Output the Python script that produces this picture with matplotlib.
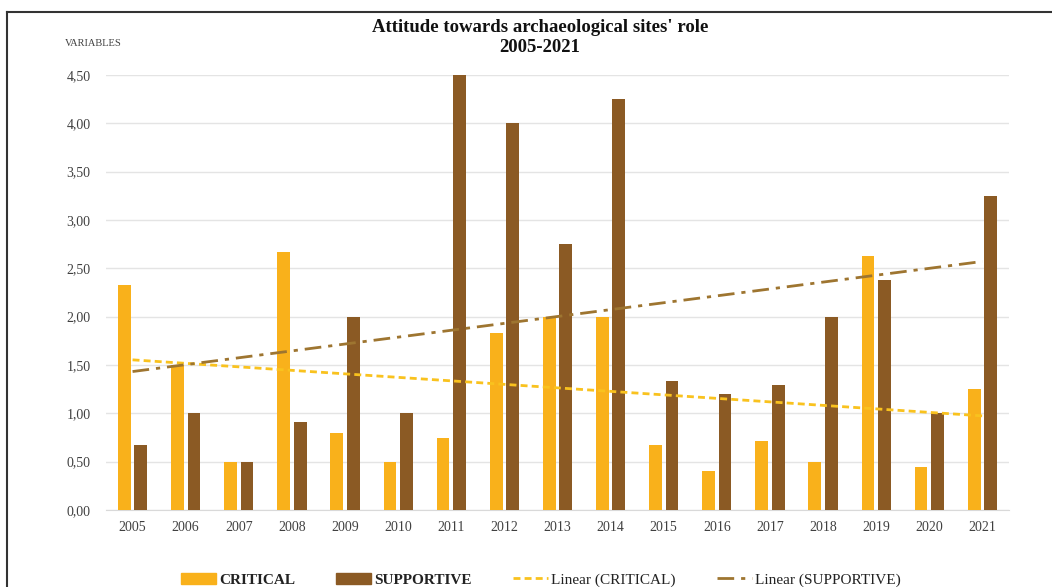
import numpy as np
import matplotlib
matplotlib.use("Agg")
import matplotlib.pyplot as plt
from matplotlib.lines import Line2D
from matplotlib.patches import Patch

years = ["2005", "2006", "2007", "2008", "2009", "2010", "2011", "2012", "2013",
         "2014", "2015", "2016", "2017", "2018", "2019", "2020", "2021"]
critical = [2.33, 1.50, 0.50, 2.67, 0.80, 0.50, 0.75, 1.83, 2.00,
            2.00, 0.67, 0.40, 0.71, 0.50, 2.63, 0.44, 1.25]
supportive = [0.67, 1.00, 0.50, 0.91, 2.00, 1.00, 4.50, 4.00, 2.75,
              4.25, 1.33, 1.20, 1.29, 2.00, 2.38, 1.00, 3.25]
yticks = [0.0, 0.5, 1.0, 1.5, 2.0, 2.5, 3.0, 3.5, 4.0, 4.5]

C_CRIT = "#F9B11B"
C_SUPP = "#8B5A24"
C_CRIT_TR = "#F9C21E"
C_SUPP_TR = "#9E7530"
SERIF = "Liberation Serif"

fig = plt.figure(figsize=(10.52, 5.87), dpi=100)
ax = fig.add_axes([106 / 1052, 1 - 510 / 587, 903 / 1052, (510 - 75) / 587])

x = np.arange(len(years))
w = 0.24
off = 0.155
ax.bar(x - off, critical, width=w, color=C_CRIT, zorder=3)
ax.bar(x + off, supportive, width=w, color=C_SUPP, zorder=3)

# linear trend lines over the year index
pc = np.polyfit(x, critical, 1)
ps = np.polyfit(x, supportive, 1)
ax.plot(x, np.polyval(pc, x), color=C_CRIT_TR, lw=2, ls=(0, (2.5, 1.5)), zorder=4)
ax.plot(x, np.polyval(ps, x), color=C_SUPP_TR, lw=2, ls=(0, (6, 2.5, 1.5, 2.5)), zorder=4)

ax.set_xlim(-0.5, len(years) - 0.5)
ax.set_ylim(0, 4.5)
ax.set_yticks(yticks)
ax.set_yticklabels([f"{v:.2f}".replace(".", ",") for v in yticks],
                   fontfamily=SERIF, fontsize=10, color="#404040")
ax.set_xticks(x)
ax.set_xticklabels(years, fontfamily=SERIF, fontsize=10, color="#404040")
ax.tick_params(axis="both", length=0, pad=11)
ax.tick_params(axis="x", pad=8)
ax.grid(axis="y", color="#E4E4E4", lw=1, zorder=0)
ax.set_axisbelow(True)
for s in ["top", "right", "left"]:
    ax.spines[s].set_visible(False)
ax.spines["bottom"].set_color("#D9D9D9")
ax.spines["bottom"].set_zorder(2)

title_kw = dict(ha="center", va="center", fontfamily=SERIF, fontweight="bold",
                fontsize=13.5, color="#111111")
fig.text(540 / 1052, 1 - 28 / 587, "Attitude towards archaeological sites' role", **title_kw)
fig.text(540 / 1052, 1 - 47 / 587, "2005-2021", **title_kw)
fig.text(65 / 1052, 1 - 43 / 587, "VARIABLES", ha="left", va="center",
         fontfamily=SERIF, fontsize=7.5, color="#404040")

# page frame
fig.add_artist(Line2D([7 / 1052, 7 / 1052], [0, 1 - 12 / 587], transform=fig.transFigure,
                      color="#333333", lw=1.5))
fig.add_artist(Line2D([7 / 1052, 1], [1 - 12 / 587, 1 - 12 / 587], transform=fig.transFigure,
                      color="#333333", lw=1.5))

handles = [
    Patch(color=C_CRIT),
    Patch(color=C_SUPP),
    Line2D([], [], color=C_CRIT_TR, lw=2, ls=(0, (2.5, 1.5))),
    Line2D([], [], color=C_SUPP_TR, lw=2, ls=(0, (6, 2.5, 1.5, 2.5))),
]
labels = ["CRITICAL", "SUPPORTIVE", "Linear (CRITICAL)", "Linear (SUPPORTIVE)"]
leg = fig.legend(handles, labels, ncol=4, loc="center", bbox_to_anchor=(541 / 1052, 1 - 580 / 587),
                 frameon=False, prop={"family": SERIF, "size": 11},
                 handlelength=2.3, handleheight=0.7, columnspacing=2.7, handletextpad=0.2)
for t in leg.get_texts()[:2]:
    t.set_fontweight("bold")
for t in leg.get_texts():
    t.set_color("#222222")

fig.savefig("out.png", dpi=100)
